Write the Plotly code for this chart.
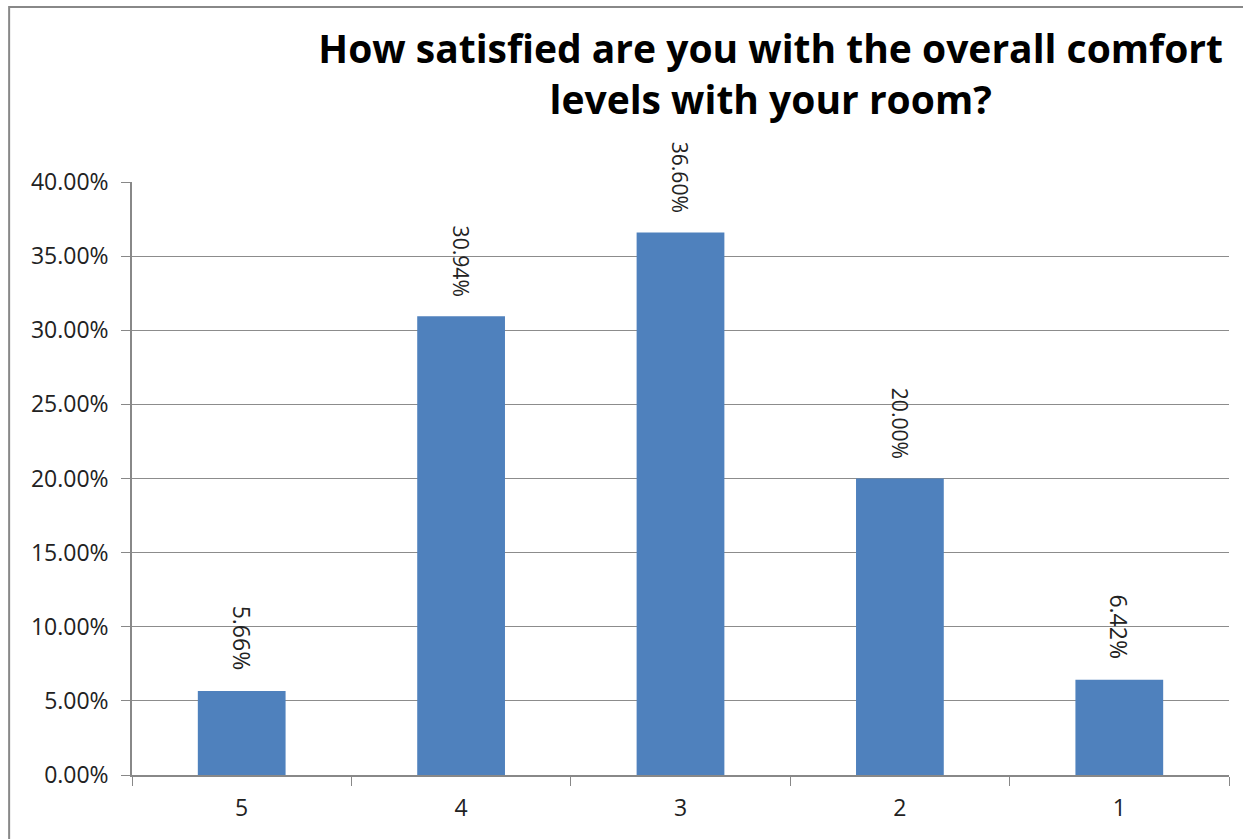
import plotly.graph_objects as go

categories = ["5", "4", "3", "2", "1"]
values = [0.0566, 0.3094, 0.3660, 0.2000, 0.0642]
title_text = "How satisfied are you with the overall comfort<br>levels with your room?"

FONT = "Open Sans, Noto Sans, DejaVu Sans, sans-serif"

fig = go.Figure(go.Bar(
    x=categories,
    y=values,
    marker=dict(color="#4F81BD", line=dict(width=0)),
    width=0.4,
    texttemplate="%{y:.2%}\u00a0\u00a0\u00a0",
    textposition="outside",
    textangle=90,
    textfont=dict(family=FONT, size=23, color="#222222"),
    cliponaxis=False,
))

fig.update_layout(
    width=1243, height=839,
    margin=dict(l=132, r=14, t=182, b=64),
    paper_bgcolor="white",
    plot_bgcolor="white",
    showlegend=False,
    font=dict(family=FONT, color="#222222"),
    title=dict(
        text=title_text,
        x=0.62, xanchor="center",
        yref="container", y=0.925, yanchor="middle",
        font=dict(family=FONT, size=39, color="black", weight="bold"),
    ),
    xaxis=dict(
        type="category",
        showgrid=False,
        showline=True, linecolor="#888888", linewidth=1.5,
        ticks="outside", tickson="boundaries", ticklen=9, tickcolor="#888888",
        tickfont=dict(family=FONT, size=23, color="#222222"),
        ticklabelstandoff=12,
    ),
    yaxis=dict(
        range=[0, 0.4],
        dtick=0.05,
        tickformat=".2%",
        showgrid=True, gridcolor="#8c8c8c", gridwidth=1,
        showline=True, linecolor="#888888", linewidth=1.5,
        ticks="outside", ticklen=9, tickcolor="#888888",
        tickfont=dict(family=FONT, size=23, color="#222222"),
        ticklabelstandoff=8,
        zeroline=False,
    ),
    shapes=[dict(
        type="rect", xref="paper", yref="paper",
        x0=-0.112, y0=-0.3, x1=1.2, y1=1.2951,
        line=dict(color="#888888", width=2), layer="below",
    )],
)

fig.write_html("out.html")
